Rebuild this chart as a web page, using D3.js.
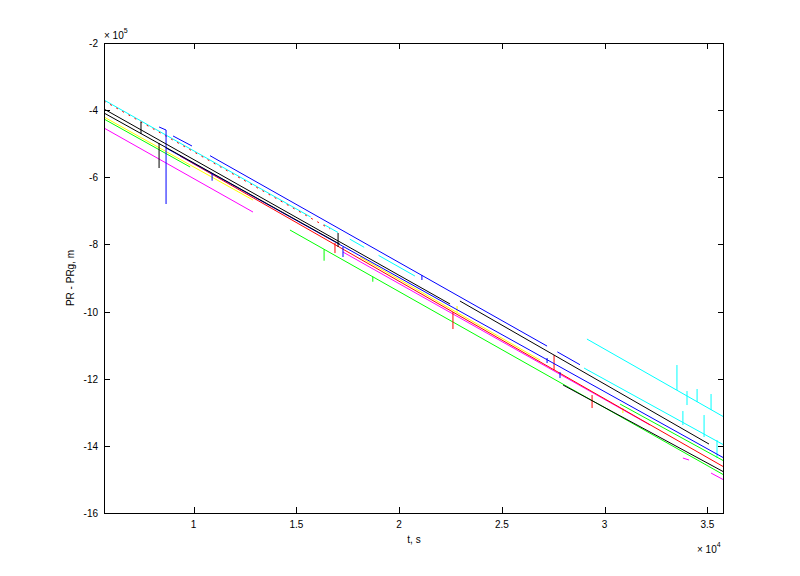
<!DOCTYPE html>
<html>
<head>
<meta charset="utf-8">
<script src="https://cdn.jsdelivr.net/npm/d3@7"></script>
<style>
  html, body { margin: 0; padding: 0; background: #ffffff; }
  svg { display: block; font-family: "Liberation Sans", Arial, Helvetica, sans-serif; }
</style>
</head>
<body>
<svg id="chart" width="800" height="576"></svg>
<script>
// ---------------- data (t in s, PR - PRg in m) ----------------
const xTicks = [10000, 15000, 20000, 25000, 30000, 35000];
const xTickLabels = ["1", "1.5", "2", "2.5", "3", "3.5"];
const yTicks = [-200000, -400000, -600000, -800000, -1000000, -1200000, -1400000, -1600000];
const yTickLabels = ["-2", "-4", "-6", "-8", "-10", "-12", "-14", "-16"];

const cyanMain = [[5640,-369800],[15700,-718400],null,[16340,-740600],[17030,-764500],null,
  [17600,-784200],[18300,-808500],null,[19000,-832700],[20770,-894100],null,
  [29000,-1168200],[35810,-1397600]];
const cyanUpper = [[29140,-1081800],[35810,-1314100]];
const cyanTicks = [[33520,-1159200],[33520,-1233700],null,[34010,-1236700],[34010,-1278400],null,
  [34500,-1230700],[34500,-1269500],null,[35180,-1245600],[35180,-1293300],null,
  [33810,-1296300],[33810,-1338000],null,[34840,-1308200],[34840,-1373700],null,
  [35470,-1382700],[35470,-1436300]];
const redOnCyan = [[5640,-372800],[16640,-754000]];
const yellowSeries = [[5640,-420400],[12890,-667700],null,[18100,-837500],[26860,-1144400],null,
  [22820,-983500],[22820,-1001300],null,[30890,-1287300],[30890,-1302200]];
const greenLeft = [[5640,-426400],[9830,-569400],null,[30750,-1275400],[35810,-1445200]];
const greenMain = [[14690,-757100],[35810,-1486900],null,
  [16350,-814600],[16350,-848500],null,[18720,-896200],[18720,-911100]];
const magentaSeries = [[5640,-453200],[12890,-703500],null,[17270,-822600],[32210,-1338000],null,
  [33810,-1436300],[34110,-1442200],null,[35180,-1481000],[35810,-1501800]];
const redSeries = [[9340,-536600],[35810,-1463100],null,
  [16880,-795800],[16880,-825600],null,[22620,-1001300],[22620,-1052000],null,
  [27540,-1129400],[27540,-1174100],null,[29390,-1248600],[29390,-1287300]];
const blueLower = [[8660,-512800],[35810,-1436300]];
const blueTop = [[8320,-450200],[8660,-459200],[8660,-679600],null,[9000,-477000],[9920,-506800],null,
  [10800,-535700],[27200,-1102800],null,[27700,-1120100],[28800,-1158300]];
const blueTicks = [[10900,-587300],[10900,-610200],null,[21110,-891100],[21110,-906000],null,
  [27200,-1138400],[27200,-1153300],null,[27830,-1180100],[27830,-1198000],null,
  [17270,-807700],[17270,-837500]];
const black1 = [[5640,-396600],[22480,-977500]];
const black2 = [[22960,-968600],[35080,-1394600]];
const black3 = [[5640,-408500],[17120,-799400],null,[27980,-1218800],[35810,-1478000]];
const blackTicks = [[7440,-435300],[7440,-471100],null,[8320,-497900],[8320,-572400],null,
  [17030,-766000],[17030,-807700]];

// ---------------- drawing ----------------
const svg = d3.select("#chart");
const L = 104, R = 724, T = 43, B = 513;
const x = d3.scaleLinear().domain([5640, 35810]).range([L, R]);
const y = d3.scaleLinear().domain([-1600000, -200000]).range([B, T]);

svg.append("rect").attr("x", 0).attr("y", 0).attr("width", 800).attr("height", 576).attr("fill", "#fff");

svg.append("defs").append("clipPath").attr("id", "clip")
  .append("rect").attr("x", L).attr("y", T).attr("width", R - L).attr("height", B - T);

const layers = [
  { data: cyanMain, color: "#00ffff" },
  { data: cyanUpper, color: "#00ffff" },
  { data: cyanTicks, color: "#00ffff" },
  { data: redOnCyan, color: "#ff0000", dash: "2,5" },
  { data: yellowSeries, color: "#ffff00" },
  { data: greenLeft, color: "#00ff00" },
  { data: greenMain, color: "#00ff00" },
  { data: magentaSeries, color: "#ff00ff" },
  { data: redSeries, color: "#ff0000" },
  { data: blueLower, color: "#0000ff" },
  { data: blueTop, color: "#0000ff" },
  { data: blueTicks, color: "#0000ff" },
  { data: black1, color: "#000000" },
  { data: black2, color: "#000000" },
  { data: black3, color: "#000000" },
  { data: blackTicks, color: "#000000" }
];

const line = d3.line().defined(d => d !== null).x(d => x(d[0])).y(d => y(d[1]));
const plot = svg.append("g").attr("clip-path", "url(#clip)");
layers.forEach(s => {
  plot.append("path")
    .attr("d", line(s.data))
    .attr("fill", "none")
    .attr("stroke", s.color)
    .attr("stroke-width", 1)
    .attr("stroke-dasharray", s.dash || null);
});

// axes box and ticks
const axisColor = "#000";
const ax = svg.append("g");
ax.append("rect").attr("x", L + 0.5).attr("y", T + 0.5).attr("width", R - L - 1).attr("height", B - T)
  .attr("fill", "none").attr("stroke", axisColor).attr("stroke-width", 1);

const tl = 6;
xTicks.forEach((t, i) => {
  const px = Math.round(x(t)) + 0.5;
  ax.append("line").attr("x1", px).attr("x2", px).attr("y1", B).attr("y2", B - tl).attr("stroke", axisColor);
  ax.append("line").attr("x1", px).attr("x2", px).attr("y1", T).attr("y2", T + tl).attr("stroke", axisColor);
  ax.append("text").attr("x", x(t)).attr("y", B + 15).attr("text-anchor", "middle")
    .attr("font-size", 10).attr("fill", "#000").text(xTickLabels[i]);
});
yTicks.forEach((v, i) => {
  const py = Math.round(y(v)) + 0.5;
  ax.append("line").attr("x1", L).attr("x2", L + tl).attr("y1", py).attr("y2", py).attr("stroke", axisColor);
  ax.append("line").attr("x1", R).attr("x2", R - tl).attr("y1", py).attr("y2", py).attr("stroke", axisColor);
  ax.append("text").attr("x", L - 6).attr("y", y(v) + 4).attr("text-anchor", "end")
    .attr("font-size", 10).attr("fill", "#000").text(yTickLabels[i]);
});

// exponent labels
const e5 = ax.append("text").attr("x", L).attr("y", 39).attr("font-size", 10).attr("fill", "#000");
e5.append("tspan").text("\u00d7 10");
e5.append("tspan").attr("dy", -6).attr("font-size", 7).text("5");
const e4 = ax.append("text").attr("x", 697).attr("y", 553).attr("font-size", 10).attr("fill", "#000");
e4.append("tspan").text("\u00d7 10");
e4.append("tspan").attr("dy", -6).attr("font-size", 7).text("4");

// axis titles
ax.append("text").attr("x", (L + R) / 2).attr("y", 543).attr("text-anchor", "middle")
  .attr("font-size", 10).attr("fill", "#000").text("t, s");
ax.append("text").attr("transform", `translate(74,${(T + B) / 2}) rotate(-90)`)
  .attr("text-anchor", "middle").attr("font-size", 10).attr("fill", "#000").text("PR - PRg, m");
</script>
</body>
</html>
